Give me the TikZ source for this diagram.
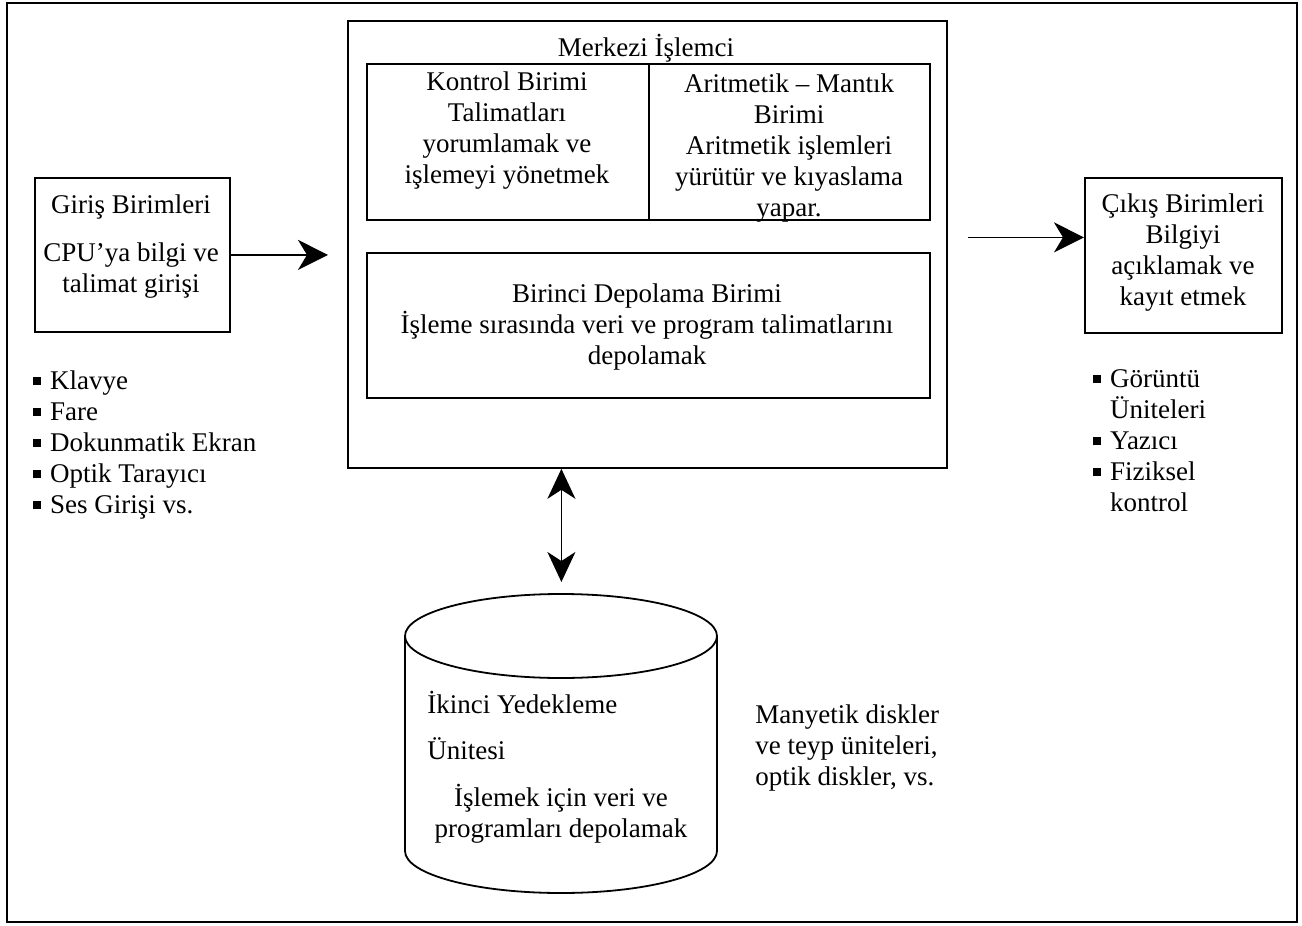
\documentclass[tikz,border=0pt]{standalone}
\usepackage{fontspec}
\setmainfont{Liberation Serif}
\usetikzlibrary{arrows.meta}
\newcommand\bul{\rule[2.2pt]{4pt}{4pt}\hspace{4.4pt}}
\newcommand\nobul{\hspace{8.4pt}}
\begin{document}
\begin{tikzpicture}[x=0.5pt,y=-0.5pt,
  every node/.style={inner sep=0pt, font=\fontsize{13.5pt}{15.5pt}\selectfont},
  box/.style={draw, line width=0.9pt, anchor=north west},
  txt/.style={align=center},
  ltxt/.style={align=left, anchor=west},
  arr/.style={line width=0.9pt, -{Stealth[length=15pt,width=15pt,inset=4.5pt]}},
  darr/.style={line width=0.9pt, {Stealth[length=15pt,width=14pt,inset=4.5pt]}-{Stealth[length=15pt,width=14pt,inset=4.5pt]}}]
\useasboundingbox (0,0) rectangle (1302,926);
\fill[white] (0,0) rectangle (1302,926);
% outer frame
\draw[line width=0.9pt] (7,3) rectangle (1297,922);
% boxes
\node[box, minimum width=97.5pt, minimum height=77pt] (giris) at (34,177) {};
\node[box, minimum width=299.5pt, minimum height=223.5pt] (cpu) at (347,20) {};
\node[box, minimum width=141pt, minimum height=78pt] (kontrol) at (366,63) {};
\node[box, minimum width=140.5pt, minimum height=78pt] (alu) at (648,63) {};
\node[box, minimum width=281.5pt, minimum height=72.5pt] (birinci) at (366,252) {};
\node[box, minimum width=98.5pt, minimum height=77.5pt] (cikis) at (1084,177) {};
% cylinder
\node[anchor=north west, minimum width=156pt, minimum height=150pt] (disk) at (405,594) {};
\draw[line width=0.9pt] (561,636) ellipse [x radius=156, y radius=42];
\draw[line width=0.9pt] (405,636) -- (405,851) arc[start angle=180, end angle=360, x radius=78pt, y radius=21pt] -- (717,636);
% texts
\node[txt] (tmerkezi) at (646,48) {Merkezi İşlemci};
\node[txt] (tkontrol) at (507,131) {Kontrol Birimi\\Talimatları\\yorumlamak ve\\işlemeyi yönetmek};
\node[txt] (talu) at (789,148) {Aritmetik – Mantık\\Birimi\\Aritmetik işlemleri\\yürütür ve kıyaslama\\yapar.};
\node[txt] (tbirinci) at (647,327) {Birinci Depolama Birimi\\İşleme sırasında veri ve program talimatlarını\\depolamak};
\node[txt] (tgiris) at (131,247) {Giriş Birimleri\\[8.5pt]CPU’ya bilgi ve\\talimat girişi};
\node[txt] (tcikis) at (1183,253) {Çıkış Birimleri\\Bilgiyi\\açıklamak ve\\kayıt etmek};
\node[ltxt] (lgiris) at (33,445) {\bul Klavye\\\bul Fare\\\bul Dokunmatik Ekran\\\bul Optik Tarayıcı\\\bul Ses Girişi vs.};
\node[ltxt] (lcikis) at (1093,441) {\bul Görüntü\\\nobul Üniteleri\\\bul Yazıcı\\\bul Fiziksel\\\nobul kontrol};
\node[ltxt] (tdisk1) at (427,725) {İkinci Yedekleme\\[7.5pt]Ünitesi};
\node[txt] (tdisk2) at (561,814) {İşlemek için veri ve\\programları depolamak};
\node[ltxt] (tmedia) at (755,748) {Manyetik diskler\\ve teyp üniteleri,\\optik diskler, vs.};
% connectors
\draw[arr, shorten >=9.5pt] (giris.east) -- (giris.east -| cpu.west);
\draw[arr, shorten <=10pt] ([yshift=9pt]cikis.west -| cpu.east) -- ([yshift=9pt]cikis.west);
\draw[darr, shorten >=6pt] (disk.north |- cpu.south) -- (disk.north);
\end{tikzpicture}
\end{document}
